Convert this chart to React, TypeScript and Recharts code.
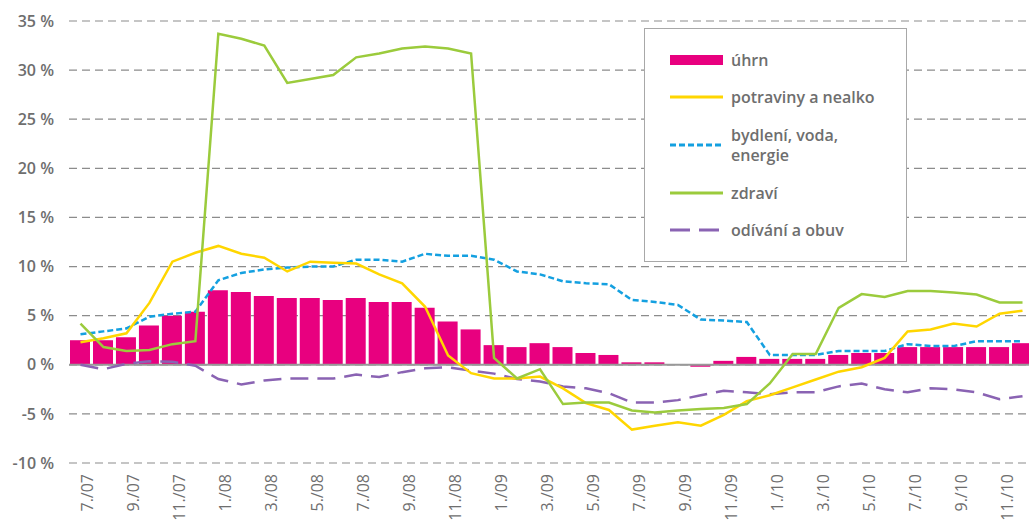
import {
  ComposedChart,
  Bar,
  Line,
  XAxis,
  YAxis,
  CartesianGrid,
  ReferenceLine,
  Legend,
} from "recharts";

const months = [
  "7./07", "8./07", "9./07", "10./07", "11./07", "12./07",
  "1./08", "2./08", "3./08", "4./08", "5./08", "6./08",
  "7./08", "8./08", "9./08", "10./08", "11./08", "12./08",
  "1./09", "2./09", "3./09", "4./09", "5./09", "6./09",
  "7./09", "8./09", "9./09", "10./09", "11./09", "12./09",
  "1./10", "2./10", "3./10", "4./10", "5./10", "6./10",
  "7./10", "8./10", "9./10", "10./10", "11./10", "12./10",
];

const uhrn = [
  2.5, 2.5, 2.8, 4.0, 5.0, 5.4, 7.6, 7.4, 7.0, 6.8, 6.8, 6.6,
  6.8, 6.4, 6.4, 5.8, 4.4, 3.6, 2.0, 1.8, 2.2, 1.8, 1.2, 1.0,
  0.25, 0.25, 0.0, -0.2, 0.4, 0.8, 0.6, 0.6, 0.6, 1.0, 1.2, 1.2,
  1.8, 1.8, 1.8, 1.8, 1.8, 2.2,
];

const potraviny = [
  2.3, 2.7, 3.2, 6.3, 10.5, 11.4, 12.1, 11.3, 10.9, 9.5, 10.5, 10.4,
  10.3, 9.2, 8.3, 5.9, 0.95, -0.85, -1.4, -1.4, -1.2, -2.4, -3.9, -4.6,
  -6.6, -6.2, -5.85, -6.2, -5.1, -3.7, -3.1, -2.3, -1.5, -0.7, -0.25, 0.7,
  3.4, 3.6, 4.2, 3.9, 5.2, 5.5,
];

const bydleni = [
  3.1, 3.4, 3.7, 4.9, 5.2, 5.4, 8.6, 9.35, 9.7, 9.9, 10.0, 10.0,
  10.7, 10.7, 10.5, 11.3, 11.1, 11.1, 10.7, 9.5, 9.2, 8.5, 8.3, 8.2,
  6.6, 6.4, 6.1, 4.6, 4.5, 4.35, 1.0, 1.0, 1.0, 1.4, 1.4, 1.4,
  2.1, 1.9, 1.9, 2.4, 2.4, 2.4,
];

const zdravi = [
  4.2, 1.8, 1.4, 1.5, 2.1, 2.4, 33.7, 33.2, 32.5, 28.7, 29.1, 29.5,
  31.3, 31.7, 32.2, 32.4, 32.2, 31.7, 0.7, -1.4, -0.45, -4.0, -3.85, -3.85,
  -4.65, -4.85, -4.65, -4.5, -4.4, -4.0, -1.9, 1.1, 1.1, 5.8, 7.2, 6.9,
  7.5, 7.5, 7.35, 7.15, 6.35, 6.35,
];

const odivani = [
  0.0, -0.45, 0.1, 0.35, 0.3, -0.1, -1.45, -2.0, -1.6, -1.4, -1.4, -1.4,
  -1.0, -1.25, -0.75, -0.35, -0.25, -0.6, -0.9, -1.45, -1.7, -2.2, -2.4, -2.9,
  -3.85, -3.85, -3.6, -3.1, -2.65, -2.8, -3.0, -2.8, -2.8, -2.2, -1.9, -2.5,
  -2.8, -2.4, -2.5, -2.8, -3.5, -3.2,
];

const yTicks = [-10, -5, 0, 5, 10, 15, 20, 25, 30, 35];

const data = months.map((month, i) => ({
  month,
  uhrn: uhrn[i],
  potraviny: potraviny[i],
  bydleni: bydleni[i],
  zdravi: zdravi[i],
  odivani: odivani[i],
}));

const FONT = "'Open Sans', 'Noto Sans', sans-serif";
const PINK = "#e8007f";
const YELLOW = "#ffd600";
const BLUE = "#14a0e0";
const GREEN = "#9bcb3c";
const PURPLE = "#8a63b3";
const TEXT = "#6e6e6e";

const legendRows = [
  { label: ["úhrn"], color: PINK, kind: "bar", dash: "", top: 32 },
  { label: ["potraviny a nealko"], color: YELLOW, kind: "line", dash: "", top: 69 },
  { label: ["bydlení, voda,", "energie"], color: BLUE, kind: "line", dash: "6 3", top: 117 },
  { label: ["zdraví"], color: GREEN, kind: "line", dash: "", top: 165 },
  { label: ["odívání a obuv"], color: PURPLE, kind: "line", dash: "20 9", top: 202 },
];

function LegendBox() {
  return (
    <div
      style={{
        position: "relative",
        width: 263,
        height: 234,
        boxSizing: "border-box",
        border: "1px solid #a8a8a8",
        background: "#fff",
        fontFamily: FONT,
        fontSize: 16,
        fontWeight: 600,
        color: TEXT,
      }}
    >
      {legendRows.map((r) => (
        <div
          key={r.label[0]}
          style={{
            position: "absolute",
            left: 25,
            top: r.top - 21,
            height: 40,
            display: "flex",
            alignItems: "center",
          }}
        >
          <svg width={53} height={12} style={{ marginRight: 8 }}>
            {r.kind === "bar" ? (
              <rect x={0} y={1} width={53} height={10} fill={PINK} />
            ) : (
              <line
                x1={0}
                y1={6}
                x2={53}
                y2={6}
                stroke={r.color}
                strokeWidth={3}
                strokeDasharray={r.dash || undefined}
              />
            )}
          </svg>
          <div style={{ lineHeight: "20px", whiteSpace: "nowrap" }}>
            {r.label.map((l) => (
              <div key={l}>{l}</div>
            ))}
          </div>
        </div>
      ))}
    </div>
  );
}

function XTick(props: any) {
  const { x, y, payload } = props;
  return (
    <text
      transform={`translate(${x + 13},${y + 3}) rotate(-90)`}
      textAnchor="end"
      fontFamily={FONT}
      fontSize={16}
      fontWeight={400}
      fill={TEXT}
    >
      {payload.value}
    </text>
  );
}

export default function App() {
  return (
    <div
      style={{
        position: "absolute",
        left: 0,
        top: 0,
        width: 1029,
        height: 523,
        overflow: "hidden",
        background: "#fff",
      }}
    >
      <ComposedChart
        width={1034}
        height={523}
        data={data}
        margin={{ top: 21, right: 0, left: 0, bottom: 0 }}
        barCategoryGap={3}
      >
        <CartesianGrid
          vertical={false}
          stroke="#8c8c8c"
          strokeWidth={1.2}
          strokeDasharray="8 5"
        />
        <XAxis
          dataKey="month"
          interval={1}
          height={60}
          axisLine={false}
          tickLine={false}
          tick={<XTick />}
        />
        <YAxis
          width={69}
          domain={[-10, 35]}
          ticks={yTicks}
          allowDataOverflow
          axisLine={false}
          tickLine={false}
          tickMargin={9}
          tickFormatter={(v: number) => `${v} %`}
          tick={{ fontFamily: FONT, fontSize: 16, fontWeight: 600, fill: TEXT }}
        />
        <Legend
          layout="horizontal"
          verticalAlign="middle"
          align="center"
          content={() => <LegendBox />}
          wrapperStyle={{ left: 644, top: 28, width: 263, height: 234 }}
        />
        <Bar dataKey="uhrn" fill={PINK} barSize={20} isAnimationActive={false} />
        <ReferenceLine y={0} stroke="#999" strokeWidth={2} />
        <Line
          type="linear"
          dataKey="odivani"
          stroke={PURPLE}
          strokeWidth={2.5}
          strokeDasharray="18 9"
          dot={false}
          isAnimationActive={false}
        />
        <Line
          type="linear"
          dataKey="bydleni"
          stroke={BLUE}
          strokeWidth={2.5}
          strokeDasharray="6 3"
          dot={false}
          isAnimationActive={false}
        />
        <Line
          type="linear"
          dataKey="potraviny"
          stroke={YELLOW}
          strokeWidth={2.5}
          dot={false}
          isAnimationActive={false}
        />
        <Line
          type="linear"
          dataKey="zdravi"
          stroke={GREEN}
          strokeWidth={2.5}
          dot={false}
          isAnimationActive={false}
        />
      </ComposedChart>
    </div>
  );
}
